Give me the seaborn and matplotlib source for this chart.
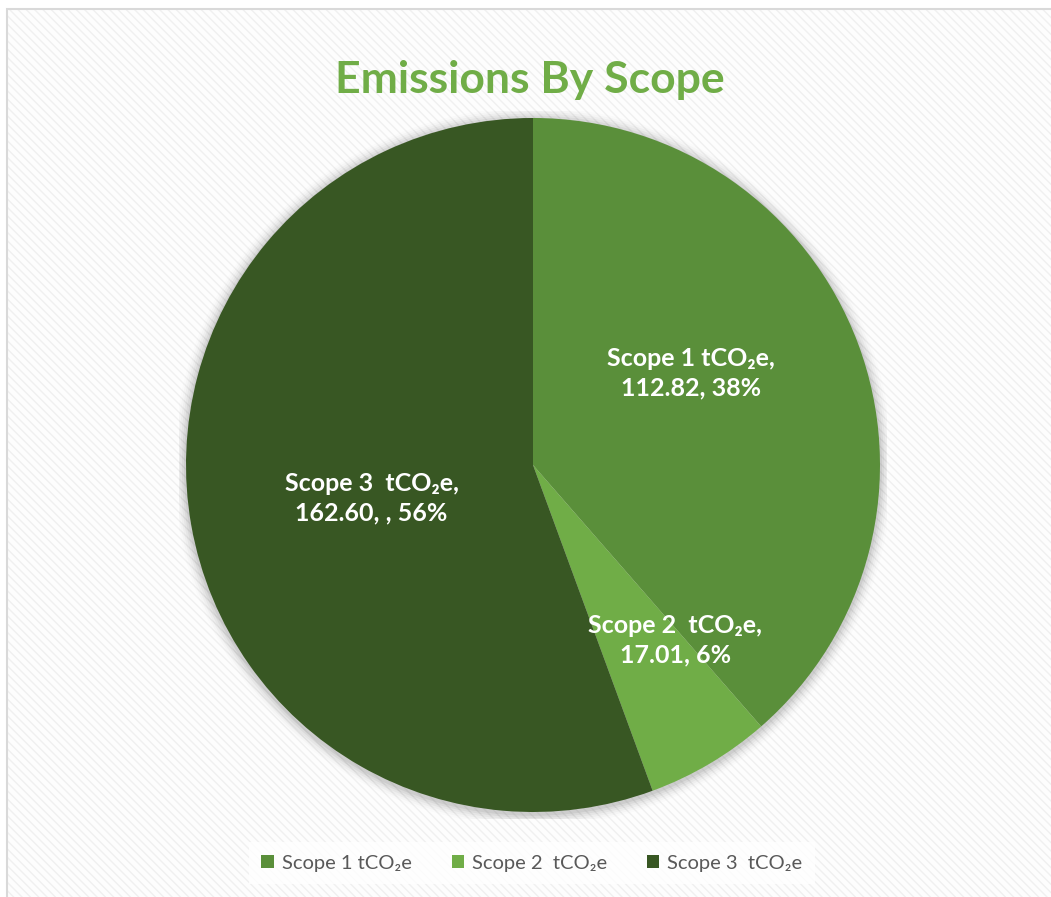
import matplotlib
matplotlib.use("Agg")
import matplotlib.pyplot as plt
import seaborn as sns
import numpy as np
from matplotlib.patches import Rectangle, Circle

# data
scopes = ['Scope 1 tCO₂e', 'Scope 2  tCO₂e', 'Scope 3  tCO₂e']
values = [112.82, 17.01, 162.60]
label_texts = ['Scope 1 tCO₂e,\n112.82, 38%', 'Scope 2  tCO₂e,\n17.01, 6%', 'Scope 3  tCO₂e,\n162.60, , 56%']
colors = ['#5A8F3A', '#70AD47', '#385723']

sns.set_theme(style="white")
plt.rcParams['font.family'] = ['Lato', 'DejaVu Sans']

fig = plt.figure(figsize=(10.51, 8.97), dpi=100)
fig.patch.set_facecolor('white')

# faint diagonal texture + border of the chart area
bg = Rectangle((7 / 1051, 0), 1.0, 1 - 9 / 897, transform=fig.transFigure,
               facecolor='#fdfdfd', edgecolor='#f0f0f0', hatch='\\\\\\\\', lw=0, zorder=-10)
fig.patches.append(bg)
border = Rectangle((7 / 1051, -0.01), 1.0, 1 - 9 / 897 + 0.01, transform=fig.transFigure,
                   facecolor='none', edgecolor='#d9d9d9', lw=1.5, zorder=-9)
fig.patches.append(border)

cx, cy, r = 533, 465, 347
half = r * 1.02
ax = fig.add_axes([(cx - half) / 1051, (897 - cy - half) / 897, 2 * half / 1051, 2 * half / 897])
ax.set_facecolor('none')
ax.set_zorder(2)

# soft shadow around the pie
for i, a in enumerate(np.linspace(0.05, 0.01, 6)):
    ax.add_patch(Circle((0, -0.005), 1.0 + 0.006 * (i + 1), color='black', alpha=a, lw=0, zorder=0))

wedges, _ = ax.pie(values, colors=colors, startangle=90, counterclock=False,
                   radius=1.0, wedgeprops=dict(linewidth=0, zorder=2))

# label placement (fraction of radius)
label_pos = [(0.455, 0.265), (0.41, -0.505), (-0.465, -0.095)]
for (x, y), t in zip(label_pos, label_texts):
    ax.text(x, y, t, ha='center', va='center', color='white', fontsize=18,
            fontweight='bold', linespacing=1.35, zorder=5)

ax.set_xlim(-1.02, 1.02)
ax.set_ylim(-1.02, 1.02)
ax.set_aspect('equal')
ax.axis('off')

fig.text(530 / 1051, 1 - 80 / 897, 'Emissions By Scope', ha='center', va='center',
         color='#70AD47', fontsize=32, fontweight='bold')

leg = fig.legend(wedges, scopes, loc='center', bbox_to_anchor=(532 / 1051, 1 - 863 / 897),
                 ncol=3, frameon=True, fontsize=14.5, handlelength=0.6, handleheight=0.6,
                 columnspacing=2.0, handletextpad=0.4, borderpad=0.6)
leg.get_frame().set_facecolor('white')
leg.get_frame().set_edgecolor('none')
leg.get_frame().set_boxstyle('square', pad=0.0)
for txt in leg.get_texts():
    txt.set_color('#595959')

fig.savefig('out.png', dpi=100, facecolor='white')
